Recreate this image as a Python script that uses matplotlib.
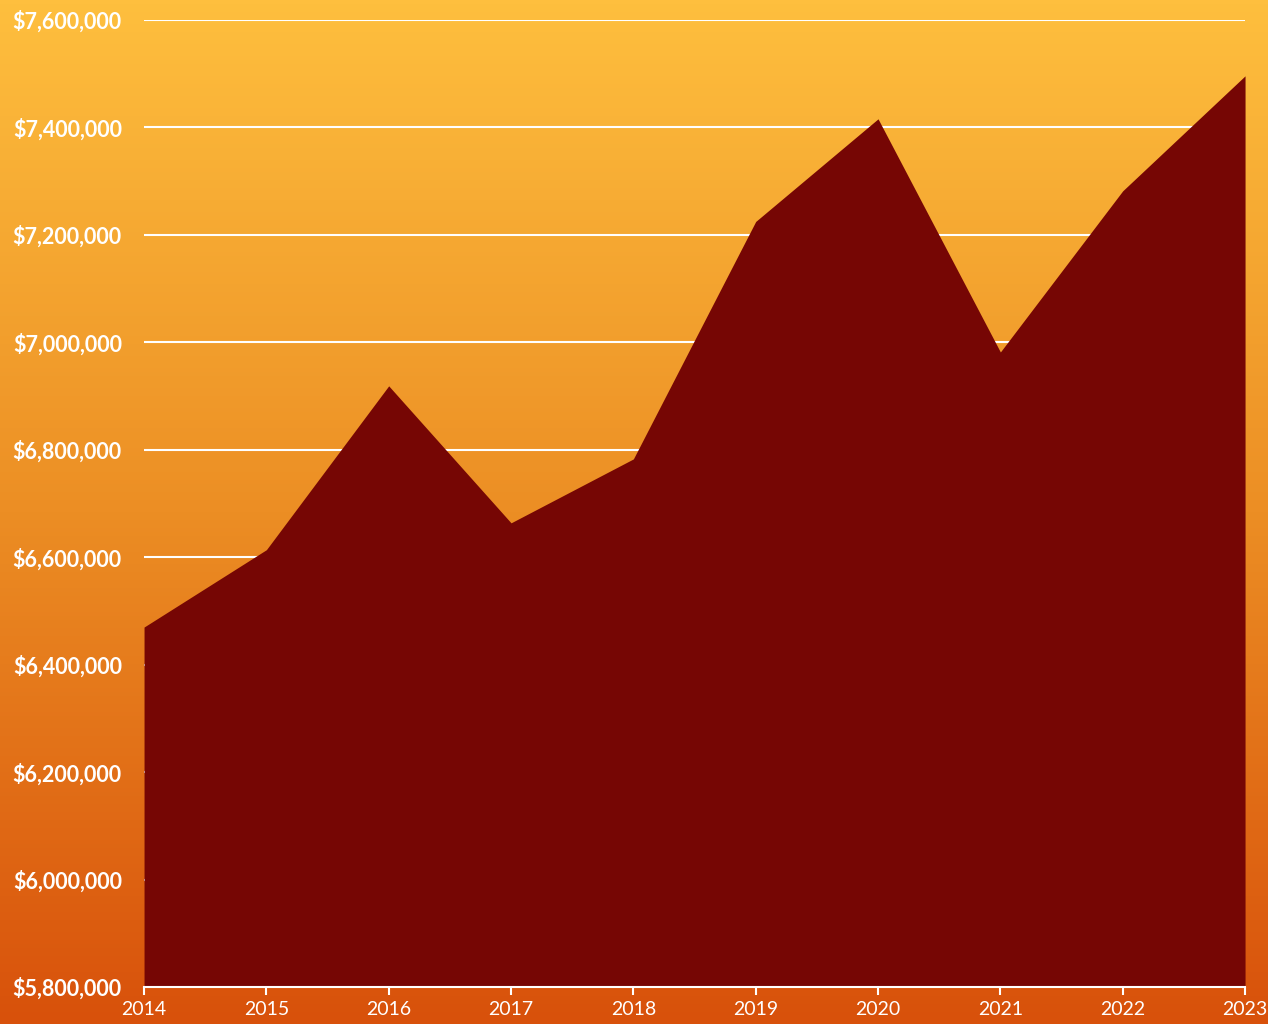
import matplotlib
matplotlib.use("Agg")
import matplotlib.pyplot as plt
import numpy as np
from matplotlib.colors import LinearSegmentedColormap
from matplotlib.ticker import FuncFormatter

# dati
years = [2014, 2015, 2016, 2017, 2018, 2019, 2020, 2021, 2022, 2023]
values = [6470000, 6614000, 6919000, 6664000, 6783000,
          7225000, 7416000, 6982000, 7282000, 7496000]
y_ticks = list(range(5800000, 7600001, 200000))

fig = plt.figure(figsize=(12.68, 10.24), dpi=100)

# sfondo a gradiente su tutta la figura
bg = fig.add_axes([0, 0, 1, 1], zorder=0)
cmap = LinearSegmentedColormap.from_list("bg", ["#FEBF3E", "#EC8E24", "#D8510B"])
grad = np.linspace(0, 1, 256).reshape(-1, 1)
bg.imshow(grad, aspect="auto", cmap=cmap, extent=[0, 1, 0, 1], origin="upper")
bg.axis("off")

ax = fig.add_axes([0.1136, 0.0361, 0.8683, 0.9444], zorder=1)
ax.patch.set_alpha(0)

ax.fill_between(years, values, y_ticks[0], color="#760604", linewidth=0, zorder=3)

ax.set_xlim(years[0], years[-1])
ax.set_ylim(y_ticks[0], y_ticks[-1])
ax.set_xticks(years)
ax.set_yticks(y_ticks)
ax.yaxis.set_major_formatter(FuncFormatter(lambda v, p: f"${v:,.0f}"))

ax.grid(axis="y", color="white", linewidth=1.5, zorder=1)
ax.set_axisbelow(True)

for s in ["top", "right", "left"]:
    ax.spines[s].set_visible(False)
ax.spines["bottom"].set_color("white")
ax.spines["bottom"].set_linewidth(1.5)
ax.spines["bottom"].set_zorder(4)

ax.tick_params(axis="y", length=0, pad=16, labelcolor="white", labelsize=15.5)
ax.tick_params(axis="x", length=6, width=1.5, color="white", pad=4,
               labelcolor="white", labelsize=14)
for lab in ax.get_yticklabels():
    lab.set_fontfamily("Lato")
    lab.set_fontweight("bold")
for lab in ax.get_xticklabels():
    lab.set_fontfamily("Lato")

fig.savefig("out.png", dpi=100)
